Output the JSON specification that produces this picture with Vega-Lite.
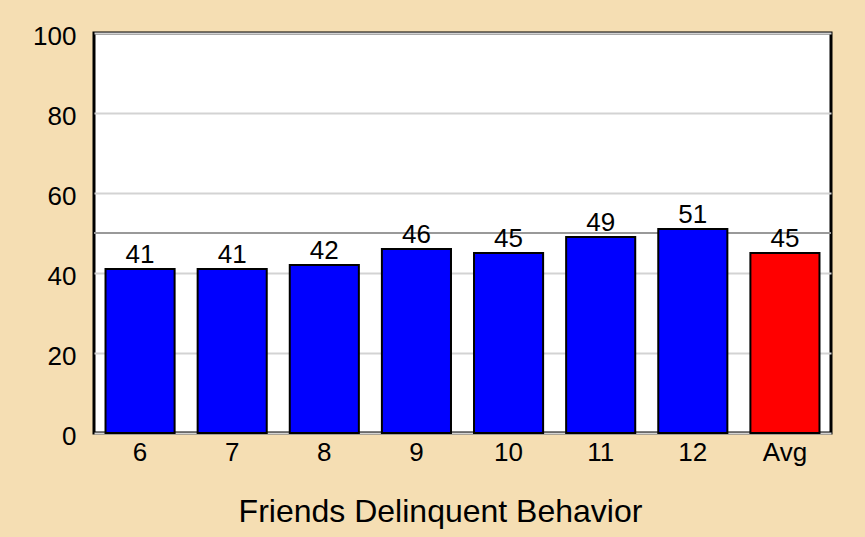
{
  "$schema": "https://vega.github.io/schema/vega-lite/v6.json",
  "autosize": "none",
  "padding": {"left": 94, "top": 33, "right": 34, "bottom": 104},
  "width": 737,
  "height": 400,
  "background": "#F5DEB3",
  "config": {
    "view": {"stroke": "#000000", "strokeWidth": 3, "fill": "#FFFFFF"},
    "font": "Liberation Sans",
    "axis": {"labelFont": "Liberation Sans", "titleFont": "Liberation Sans", "labelColor": "#000000", "titleColor": "#000000"}
  },
  "data": {
    "values": [
      {"grade": "6", "value": 41, "group": "grade"},
      {"grade": "7", "value": 41, "group": "grade"},
      {"grade": "8", "value": 42, "group": "grade"},
      {"grade": "9", "value": 46, "group": "grade"},
      {"grade": "10", "value": 45, "group": "grade"},
      {"grade": "11", "value": 49, "group": "grade"},
      {"grade": "12", "value": 51, "group": "grade"},
      {"grade": "Avg", "value": 45, "group": "avg"}
    ]
  },
  "encoding": {
    "x": {
      "field": "grade", "type": "nominal", "sort": null,
      "scale": {"paddingInner": 0.25, "paddingOuter": 0.125},
      "axis": {
        "title": "Friends Delinquent Behavior", "titleFontSize": 32, "titleFontWeight": "normal",
        "titlePadding": 31, "titleX": 346, "titleAlign": "center",
        "labelFontSize": 26, "labelAngle": 0, "labelPadding": 6,
        "ticks": false, "domain": false, "grid": false
      }
    },
    "y": {
      "field": "value", "type": "quantitative",
      "scale": {"domain": [0, 100], "nice": false},
      "axis": {
        "title": null, "values": [0, 20, 40, 60, 80, 100], "labelFontSize": 26, "labelPadding": 18,
        "labelOffset": 3,
        "ticks": false, "domain": false, "grid": true, "gridColor": "#D3D3D3", "gridWidth": 2
      }
    }
  },
  "layer": [
    {
      "data": {"values": [{"ref": 50}]},
      "mark": {"type": "rule", "color": "#999999", "strokeWidth": 2},
      "encoding": {"y": {"field": "ref", "type": "quantitative"}, "x": null}
    },
    {
      "mark": {"type": "bar", "stroke": "#000000", "strokeWidth": 2},
      "encoding": {
        "color": {
          "field": "group", "type": "nominal",
          "scale": {"domain": ["grade", "avg"], "range": ["#0000FF", "#FF0000"]},
          "legend": null
        }
      }
    },
    {
      "mark": {"type": "text", "baseline": "alphabetic", "dy": -6, "fontSize": 26, "color": "#000000"},
      "encoding": {"text": {"field": "value", "type": "quantitative"}}
    }
  ]
}
